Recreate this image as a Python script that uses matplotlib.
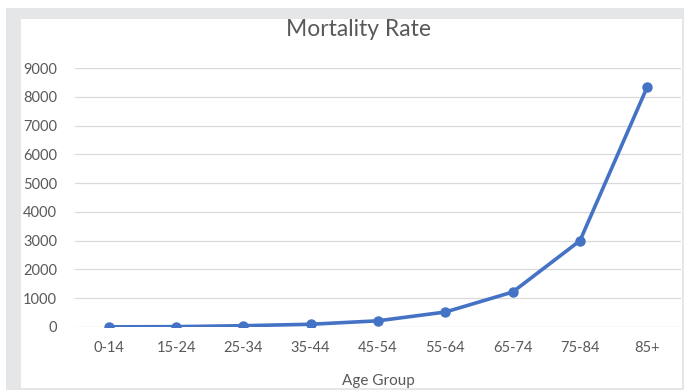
import matplotlib.pyplot as plt
from matplotlib.patches import Rectangle

# data
age_groups = ["0-14", "15-24", "25-34", "35-44", "45-54", "55-64", "65-74", "75-84", "85+"]
mortality = [5, 12, 45, 95, 215, 520, 1215, 3000, 8350]
y_ticks = list(range(0, 9001, 1000))

W, H = 684, 390
fig = plt.figure(figsize=(W / 100, H / 100), dpi=100)
fig.patch.set_facecolor("white")

# grey frame around a white chart area (pixel coords from top-left)
def px_rect(x0, y0, x1, y1, **kw):
    fig.patches.append(Rectangle((x0 / W, 1 - y1 / H), (x1 - x0) / W, (y1 - y0) / H,
                                 transform=fig.transFigure, figure=fig, zorder=-5, **kw))

px_rect(6, 8, W, H, facecolor="#e5e6e7", edgecolor="none")
px_rect(21, 19, 682, 388, facecolor="white", edgecolor="none")

ax = fig.add_axes([75 / W, 63 / H, (681 - 75) / W, (327 - 68) / H])
ax.set_facecolor("none")

x = list(range(len(age_groups)))
ax.plot(x, mortality, color="#4472C4", linewidth=2.6, marker="o", markersize=6.5,
        solid_capstyle="round", zorder=3)

ax.set_xlim(-0.5, len(age_groups) - 0.5)
ax.set_ylim(0, 9000)
ax.set_yticks(y_ticks)
ax.set_xticks(x)
ax.set_xticklabels(age_groups)
ax.grid(axis="y", color="#d9d9d9", linewidth=0.9)
ax.set_axisbelow(True)
for s in ax.spines.values():
    s.set_visible(False)
ax.tick_params(length=0, labelsize=10.5, colors="#595959")
ax.tick_params(axis="y", pad=13)
ax.tick_params(axis="x", pad=10)
for lab in ax.get_xticklabels() + ax.get_yticklabels():
    lab.set_fontfamily("Lato")

fig.text(359 / W, 1 - 36 / H, "Mortality Rate", ha="center", va="baseline",
         fontsize=16.5, color="#595959", family="Lato")
fig.text(378 / W, 1 - 385 / H, "Age Group", ha="center", va="baseline",
         fontsize=11, color="#595959", family="Lato")

plt.savefig("out.png", dpi=100)
